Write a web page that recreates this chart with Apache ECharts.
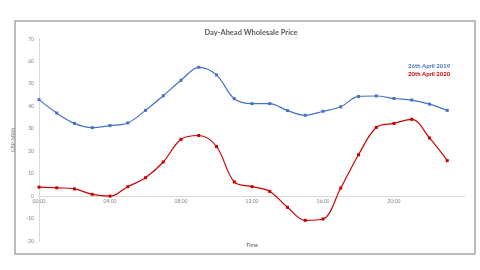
<!DOCTYPE html>
<html><head><meta charset="utf-8">
<script src="https://cdn.jsdelivr.net/npm/echarts@6/dist/echarts.min.js"></script>
<style>html,body{margin:0;padding:0;background:#fff}#c{width:480px;height:270px}</style>
</head><body><div id="c"></div>
<script>
const hours = [0,1,2,3,4,5,6,7,8,9,10,11,12,13,14,15,16,17,18,19,20,21,22,23];
const series2019 = [43.0,37.0,32.4,30.5,31.4,32.6,38.2,44.7,51.6,57.4,54.0,43.4,41.2,41.2,38.1,36.0,37.8,39.8,44.4,44.6,43.5,42.8,41.0,38.2];
const series2020 = [4.0,3.7,3.2,0.8,0.0,4.2,8.2,15.2,25.3,27.0,22.1,6.3,4.2,2.1,-5.0,-10.8,-10.2,3.6,18.4,30.6,32.4,34.2,25.9,15.8];
const name2019 = '26th April 2019';
const name2020 = '20th April 2020';
const yTicks = [-20,-10,0,10,20,30,40,50,60,70];
const xTickLabels = ['00:00','04:00','08:00','12:00','16:00','20:00'];

const blue = '#4472C4', red = '#CC0000';
const font = 'Lato, "Open Sans", sans-serif';
const gridTop = 39, gridBottom = 29, H = 270;
const yMin = yTicks[0], yMax = yTicks[yTicks.length - 1];
// move the x axis (line + labels) up to the value 0
const zeroOffset = -((0 - yMin) / (yMax - yMin)) * (H - gridTop - gridBottom);
const chart = echarts.init(document.getElementById('c'));
chart.setOption({
  animation: false,
  textStyle: {fontFamily: font},
  title: {text: 'Day-Ahead Wholesale Price', left: 246, top: 24, textAlign: 'center',
    textStyle: {fontSize: 7.5, fontWeight: 'bold', color: '#595959', fontFamily: font}},
  legend: {orient: 'vertical', left: 398, top: 58, icon: 'none', itemWidth: 0, itemHeight: 6, itemGap: 2,
    textStyle: {fontSize: 6, fontWeight: 'bold', fontFamily: font, padding: 0},
    data: [{name: name2019, textStyle: {color: blue}}, {name: name2020, textStyle: {color: red}}]},
  graphic: [
    {type: 'rect', shape: {x: 15, y: 21, width: 460, height: 233},
      style: {fill: 'none', stroke: '#a6a6a6', lineWidth: 1.5}, silent: true},
    {type: 'text', x: 252, y: 245, style: {text: 'Time', fontSize: 5.5, fill: '#595959',
      fontFamily: font, align: 'center', verticalAlign: 'middle'}, silent: true}
  ],
  grid: {left: 39, right: 15, top: gridTop, bottom: gridBottom, containLabel: false, outerBoundsMode: 'none'},
  xAxis: {type: 'value', min: 0, max: 24, interval: 4, offset: zeroOffset,
    axisLine: {onZero: false, lineStyle: {color: '#d9d9d9', width: 1}},
    axisTick: {show: false}, splitLine: {show: false},
    axisLabel: {fontSize: 5, color: '#7f7f7f', margin: 3,
      formatter: v => xTickLabels[v / 4] || ''}},
  yAxis: {type: 'value', min: yMin, max: yMax, interval: 10,
    name: 'GBP/MWh', nameLocation: 'middle', nameGap: 13,
    nameTextStyle: {fontSize: 5, color: '#7f7f7f'},
    axisLine: {show: true, lineStyle: {color: '#d9d9d9', width: 1}},
    axisTick: {show: false}, splitLine: {show: false},
    axisLabel: {fontSize: 5, color: '#7f7f7f', margin: 5}},
  series: [
    {name: name2019, type: 'line', smooth: 0.35, data: hours.map((h, i) => [h, series2019[i]]),
      symbol: 'rect', symbolSize: 3, itemStyle: {color: blue}, lineStyle: {color: blue, width: 1.2}},
    {name: name2020, type: 'line', smooth: 0.35, data: hours.map((h, i) => [h, series2020[i]]),
      symbol: 'rect', symbolSize: 3, itemStyle: {color: red}, lineStyle: {color: red, width: 1.2}}
  ]
});
</script></body></html>
